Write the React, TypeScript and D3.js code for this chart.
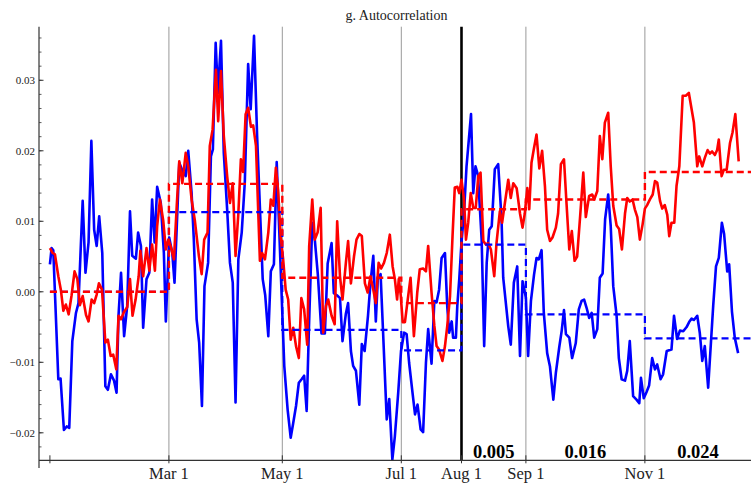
import React from 'react';
import * as d3 from 'd3';

// x is a trading-day index (0 = first day of January), values are in units of 1e-3
const blueSeries: [number, number][] = [
  [0, 3.9], [0.6, 6.2], [1.2, 5.9], [3, -12.4], [3.8, -12.3], [5, -19.6], [6, -19.1], [6.9, -19.3],
  [8, -7.0], [9.3, -3.0], [10.2, -1.6], [11.7, 12.9], [12.7, 2.7], [13.8, 7.0], [14.8, 21.4], [15.8, 8.8],
  [16.7, 6.5], [17.6, 10.7], [18.7, 5.5], [19.8, -13.4], [20.7, -13.9], [21.8, -11.7], [22.9, -12.6],
  [23.8, -14.3], [24.5, -3.4], [25.4, 2.7], [26.5, -6.3], [27.6, -2.0], [28.6, 11.4], [29.4, 5.1],
  [30.7, 4.7], [31.5, 8.4], [32.5, 6.5], [33.3, -5.1], [34.5, 1.8], [35.5, 2.7], [36.5, 13.1], [37.4, 7.0],
  [38.3, 14.9], [39.6, 12.6], [40.7, 5.5], [41.4, -4.2], [42.6, 7.7], [43.7, 5.5], [44.5, 1.3],
  [45.5, 11.2], [46.2, 18.3], [47.4, 17.1], [48.5, 16.4], [49.4, 20.0], [50.6, 14.0], [51.4, 7.4],
  [52.4, -3.9], [53.3, -7.2], [54.3, -16.2], [55.2, 0.8], [56.5, 4.1], [57.5, 19.2], [58.2, 20.2],
  [59.2, 35.3], [60, 28.2], [61.1, 35.6], [62.1, 19.7], [63.3, 11.7], [64.3, 4.1], [65.3, 1.3],
  [66.3, -15.7], [67.3, 4.6], [68.5, 8.4], [69.6, 15.5], [70.8, 32.3], [71.7, 25.9], [72.9, 36.3],
  [74, 22.1], [76, 1.8], [76.9, -0.5], [78, -6.3], [78.9, 2.9], [80, 3.9], [81, 18.4], [83.7, -10.5],
  [84.9, -16.7], [86, -20.7], [86.9, -18.6], [87.9, -16.2], [88.9, -12.9], [89.9, -12.4], [90.8, -11.9],
  [91.7, -16.9], [92.5, -5.3], [93.7, 9.8], [94.6, 7.4], [95.7, 2.4], [97, -5.9], [98.2, -5.9],
  [99.2, 4.0], [100.6, 6.9], [101.4, -0.2], [102.5, -0.5], [103.6, -0.9], [104.5, -7.0], [105.7, -3.1],
  [106.5, -1.6], [107.5, -8.4], [108.3, -10.5], [109.3, -11.2], [110.5, -16.0], [111.4, -7.4],
  [112.4, -8.4], [113.6, -3.4], [114.5, 1.3], [115.5, 5.1], [116.4, -4.2], [117.1, 1.8], [118.1, 2.5],
  [119, -5.8], [120.3, -18.1], [121.2, -15.2], [122.3, -23.8], [123.2, -20.5], [124.4, -14.3],
  [125.4, -8.4], [126.5, -5.8], [127.4, -6.0], [128.3, -10.1], [129.5, -14.3], [130.4, -17.4],
  [131.3, -16.0], [132.4, -19.5], [133.3, -19.9], [134.3, -10.1], [135.1, -5.3], [136.3, -10.2],
  [137.3, -1.3], [138.1, -1.5], [139, 0.3], [139.9, 4.8], [141.1, 5.5], [141.9, -2.0], [142.6, -5.8],
  [143.5, -4.2], [144, -6.5], [145, -6.5], [145.5, -2.0], [146.2, 1.8], [147, 7.0], [147.9, 11.2],
  [148.8, 17.8], [150.4, 25.2], [151.2, 14.0], [152, 17.8], [152.9, 16.5], [154.2, 7.4], [155.1, -7.7],
  [156, 4.1], [156.9, 8.8], [157.8, 9.3], [158.9, 17.4], [160.1, 18.1], [161.3, 10.3], [161.9, 2.0],
  [163.7, -4.9], [164.6, -7.5], [165.7, 1.3], [166.9, 3.6], [167.9, -9.1], [168.8, 1.5], [170, -0.8],
  [170.8, -9.1], [171.8, -1.3], [172.9, 2.4], [173.8, 4.8], [174.6, 4.6], [175.6, 5.9], [176.4, -3.0],
  [177.6, -8.7], [178.6, -10.6], [179.8, -15.3], [180.7, -11.5], [181.9, -7.9], [182.8, -5.5],
  [183.6, -2.6], [184.3, -6.0], [185.5, -6.5], [186.5, -9.4], [187.8, -7.3], [188.9, -2.5],
  [189.9, -1.3], [190.8, -1.1], [191.7, -2.3], [192.6, -3.7], [193.5, -3.0], [194.4, -6.5],
  [195.5, -5.3], [196.4, 2.0], [197.4, 2.6], [198.3, 10.3], [199.4, 13.8], [200.3, 9.3], [201.2, 0.8],
  [202.4, -3.4], [203.2, -9.4], [204.2, -12.4], [205.4, -12.6], [206.2, -11.2], [207.1, -7.0],
  [208.3, -14.8], [209.5, -15.3], [210.5, -15.8], [211.1, -12.2], [212.1, -15.1], [213.1, -14.2],
  [214, -13.3], [215.1, -9.4], [216.1, -11.0], [216.9, -10.3], [218.1, -12.4], [219, -11.7],
  [220.3, -8.4], [222, -8.2], [222.9, -3.4], [224, -6.7], [225, -5.5], [226.2, -5.6], [227.4, -5.0],
  [228.3, -4.3], [229.2, -3.8], [230, -4.0], [231.2, -3.4], [232.1, -5.8], [233, -9.8], [233.9, -7.7],
  [235.1, -13.6], [236.9, -2.0], [237.9, 3.6], [238.9, 4.8], [240, 9.8], [240.8, 8.2], [241.9, 2.9],
  [242.6, 3.9], [243.6, -2.8], [244.6, -6.5], [245.8, -8.7],
];

const redSeries: [number, number][] = [
  [0, 6.2], [1, 5.5], [1.8, 5.3], [3, 2.2], [3.9, 0.3], [4.8, -2.7], [5.7, -1.8], [6.7, -3.2], [7.7, -0.6],
  [8.8, 2.9], [9.8, 1.8], [10.7, -1.9], [11.7, -0.6], [12.9, -3.3], [13.8, -4.2], [14.9, -1.1],
  [15.8, -1.6], [16.7, -0.4], [17.5, 1.2], [18.6, 0.3], [19.8, -7.2], [20.7, -6.8], [21.7, -9.1],
  [22.6, -8.9], [23.7, -11.0], [24.5, -3.4], [25.4, -3.9], [26.4, -2.9], [27.6, -2.2], [28.6, 1.8],
  [29.5, -3.4], [30.6, -1.1], [31.7, 2.2], [32.3, 5.8], [33.3, 2.2], [34.5, 6.2], [35.5, 3.0],
  [36.5, 6.7], [37.5, 3.0], [38.3, 9.3], [39.3, 13.1], [40.5, 10.0], [41.4, 6.0], [42.3, 7.4],
  [43.1, 6.5], [44.3, 4.6], [45.3, 12.2], [46.2, 18.5], [47.3, 15.4], [48.5, 19.7], [49.4, 17.8],
  [50.6, 13.1], [51.8, 10.0], [53.2, 5.1], [54.2, 2.5], [55.1, 7.4], [56.3, 8.4], [57.1, 20.7],
  [58.1, 23.0], [59.3, 31.5], [60.1, 24.2], [61.1, 31.3], [62.1, 22.1], [63.3, 16.4], [64.3, 12.6],
  [65.3, 15.4], [66.3, 5.1], [67.3, 11.1], [68.2, 18.8], [69, 17.0], [69.9, 25.2], [70.8, 26.1],
  [71.8, 23.4], [72.6, 23.6], [73.6, 20.7], [75, 4.4], [75.8, 5.5], [76.8, 4.6], [78, 8.4], [78.9, 13.1],
  [79.8, 12.2], [80.7, 17.6], [81.5, 14.4], [82.4, 7.9], [83.3, 4.6], [84.2, 0.3], [85.1, -1.1],
  [86, -6.8], [86.9, -5.1], [87.9, -7.7], [88.9, -9.4], [89.8, -0.9], [90.8, -2.5], [91.9, -7.5],
  [92.6, 6.5], [93.7, 13.1], [94.6, 7.4], [95.6, 8.4], [96.7, 11.9], [97.6, -5.8], [98.6, -2.0],
  [99.4, -1.1], [100.6, -3.4], [101.7, -4.6], [102.6, 10.0], [103.6, 2.2], [104.5, -1.1], [105.7, 4.1],
  [106.5, 7.2], [107.5, 1.2], [108.6, 5.0], [109.5, 7.4], [110.5, 8.2], [111.4, 7.9], [112.5, 1.2],
  [113.5, -0.1], [114.5, 2.2], [115.5, 0.3], [116.4, -1.6], [117.4, 4.1], [118.3, 3.3], [119.3, 4.1],
  [120.3, 5.5], [121.4, 8.1], [122.4, 3.6], [123.2, 1.8], [124, -1.1], [124.6, 1.8], [125.3, -0.5],
  [126, -4.3], [126.8, -4.3], [127.8, -1.1], [128.8, 2.0], [130, -6.3], [131.2, -0.1], [132.1, 3.2],
  [133.3, 3.3], [134.3, 2.9], [135.1, 6.5], [136.3, -0.1], [137.3, -4.8], [138.1, -7.7], [139, -8.2],
  [140.2, -9.8], [141.1, -7.7], [141.9, -4.9], [142.9, -0.6], [143.8, 7.9], [144.6, 14.8], [145.5, 14.9],
  [146.2, 14.0], [147, 15.9], [147.9, 13.1], [148.6, 7.4], [149.4, 9.8], [150.3, 14.0], [151.2, 11.9],
  [152.1, 11.9], [153, 16.4], [153.8, 16.9], [154.8, 7.2], [155.7, 6.7], [156.5, 6.9], [157.5, 6.0],
  [158.7, 2.2], [159.5, 6.9], [160.7, 11.4], [161.5, 9.8], [162.5, 12.6], [163.7, 15.9], [164.6, 13.3],
  [165.5, 15.4], [166.7, 14.7], [167.9, 11.1], [168.8, 9.1], [169.6, 11.1], [170.5, 14.7], [171.2, 11.7],
  [172, 18.3], [172.9, 20.4], [173.8, 22.3], [174.8, 17.5], [175.8, 20.0], [176.8, 15.0], [177.6, 8.8],
  [178.6, 7.2], [179.5, 7.7], [180.7, 9.1], [181.5, 11.1], [182.5, 18.1], [183.6, 18.8], [184.5, 12.6],
  [185.5, 6.0], [186.4, 8.6], [187.4, 4.4], [188.3, 5.0], [189.3, 10.3], [190.5, 16.9], [191.4, 10.6],
  [192.6, 13.6], [193.7, 13.8], [194.4, 13.1], [195.5, 14.3], [196.4, 22.1], [197.3, 18.8],
  [198.2, 24.0], [199.4, 25.4], [200.3, 17.8], [201.2, 12.2], [202.4, 9.4], [203.3, 8.9], [204.3, 6.0],
  [205.4, 11.1], [206.2, 13.3], [207.1, 12.8], [208.1, 13.1], [208.9, 11.7], [209.8, 10.6],
  [210.7, 7.4], [211.7, 9.6], [212.5, 11.8], [213.3, 12.3], [214.3, 13.1], [215.3, 13.8], [216.1, 15.7],
  [216.9, 15.5], [217.9, 12.9], [218.7, 11.8], [219.6, 12.3], [220.5, 10.9], [221.2, 7.9], [222, 9.8],
  [223, 9.8], [223.8, 15.0], [224.8, 17.8], [226, 27.8], [227.1, 27.8], [228.2, 28.2], [230, 24.0],
  [231.2, 17.8], [231.9, 19.2], [233, 17.8], [233.9, 19.0], [234.9, 20.1], [235.7, 19.6], [236.5, 19.9],
  [237.5, 19.4], [238.3, 20.1], [238.9, 21.6], [239.9, 16.4], [240.7, 17.3], [241.7, 17.3],
  [242.9, 21.1], [243.8, 22.6], [244.8, 25.2], [246, 18.5],
];

// sub-period boundaries (trading-day index) and their means
const periodStarts = [0, 42.5, 83, 125.5, 147, 170, 212.5];
const periodEnd = 250.4;
const blueMeans = [0.0, 11.3, -5.4, -8.3, 6.7, -3.2, -6.6];
const redMeans = [0.0, 15.3, 2.0, -1.6, 11.7, 13.1, 17.0];
const periodNotes = ['', '', '', '', '0.005', '0.016', '0.024'];

const monthTicks = [0, 42.5, 83, 125.5, 147, 170, 212.5];
const monthLabels = ['', 'Mar 1', 'May 1', 'Jul 1', 'Aug 1', 'Sep 1', 'Nov 1'];
const breakTick = 147;

const yMajor = [-0.02, -0.01, 0, 0.01, 0.02, 0.03];
const yMajorLabels = ['\u22120.02', '\u22120.01', '0.00', '0.01', '0.02', '0.03'];

const W = 751;
const H = 487;
const serif = '"Liberation Serif", "Times New Roman", serif';

export default function App() {
  const x = d3.scaleLinear().domain([-3.9, periodEnd]).range([39, W]);
  const y = d3.scaleLinear().domain([-0.0239, 0.0376]).range([460.3, 26.7]);
  const top = y.range()[1];
  const bottom = y.range()[0];

  const line = d3
    .line<[number, number]>()
    .x((d) => x(d[0]))
    .y((d) => y(d[1] / 1000));

  const steps = (means: number[]) =>
    d3
      .line<[number, number]>()
      .curve(d3.curveStepAfter)
      .x((d) => x(d[0]))
      .y((d) => y(d[1] / 1000))([
      ...periodStarts.map((s, i) => [s, means[i]] as [number, number]),
      [periodEnd, means[means.length - 1]],
    ]) as string;

  const minor = d3.range(-22, 37, 2).map((v) => v / 1000);

  return (
    <svg
      width={W}
      height={H}
      style={{ position: 'absolute', left: 0, top: 0, background: '#fff' }}
      fontFamily={serif}
    >
      <text x={396.5} y={20} textAnchor="middle" fontSize={14} fill="#222">
        g. Autocorrelation
      </text>

      {/* month grid lines */}
      {monthTicks.map((t, i) =>
        i === 0 ? null : (
          <line
            key={'g' + i}
            x1={x(t)}
            x2={x(t)}
            y1={top}
            y2={bottom}
            stroke={t === breakTick ? '#000' : '#999'}
            strokeWidth={t === breakTick ? 2.6 : 1}
          />
        ),
      )}

      {/* series */}
      <path d={line(blueSeries) as string} fill="none" stroke="#0000ff" strokeWidth={2.6} strokeLinejoin="round" />
      <path d={line(redSeries) as string} fill="none" stroke="#ff0000" strokeWidth={2.6} strokeLinejoin="round" />
      <path d={steps(blueMeans)} fill="none" stroke="#0000ff" strokeWidth={2.2} strokeDasharray="7,4" />
      <path d={steps(redMeans)} fill="none" stroke="#ff0000" strokeWidth={2.4} strokeDasharray="7,4" />

      {/* axes */}
      <line x1={39} x2={W} y1={bottom} y2={bottom} stroke="#333" strokeWidth={1.2} />
      <line x1={39} x2={39} y1={top} y2={468} stroke="#333" strokeWidth={1.2} />
      {minor.map((v, i) => (
        <line key={'m' + i} x1={39} x2={41.5} y1={y(v)} y2={y(v)} stroke="#333" strokeWidth={0.8} />
      ))}
      {yMajor.map((v, i) => (
        <g key={'y' + i}>
          <line x1={39} x2={43.5} y1={y(v)} y2={y(v)} stroke="#333" strokeWidth={1} />
          <text x={35} y={y(v)} dy="0.35em" textAnchor="end" fontSize={11} fill="#222">
            {yMajorLabels[i]}
          </text>
        </g>
      ))}
      {monthTicks.map((t, i) => (
        <g key={'x' + i}>
          <line x1={x(t)} x2={x(t)} y1={bottom - 5} y2={bottom + 3} stroke="#333" strokeWidth={1} />
          <text x={x(t)} y={479} textAnchor="middle" fontSize={16.5} fill="#222">
            {monthLabels[i]}
          </text>
        </g>
      ))}

      {/* period notes */}
      {periodNotes.map((n, i) =>
        n ? (
          <text
            key={'n' + i}
            x={x(((periodStarts[i] + (periodStarts[i + 1] ?? periodEnd)) / 2))}
            y={457.5}
            textAnchor="middle"
            fontSize={18.5}
            fontWeight="bold"
            fill="#000"
          >
            {n}
          </text>
        ) : null,
      )}
    </svg>
  );
}
